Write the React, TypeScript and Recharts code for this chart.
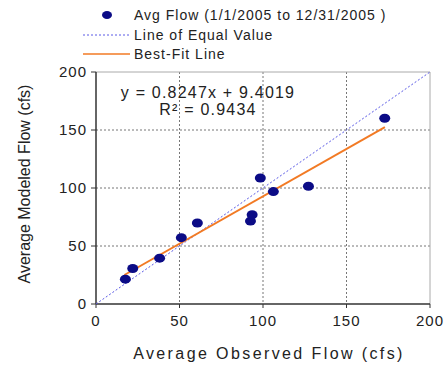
import { ScatterChart, Scatter, XAxis, YAxis, CartesianGrid, ReferenceLine, Customized } from "recharts"

// average flows, 1/1/2005 - 12/31/2005
const observed = [17.6, 22, 38.1, 51.1, 60.7, 92.5, 93.5, 98.4, 106.2, 127.2, 172.9]
const modeled = [21.4, 30.6, 39.5, 57.2, 69.8, 71.5, 76.9, 108.6, 96.9, 101.5, 160.1]

const equalX = [0, 200]
const equalY = [0, 200]
const fitX = [17, 173]
const fitY = [25, 152.5]

const ticks = [0, 50, 100, 150, 200]
const fitLabel = "y = 0.8247x + 9.4019"
const r2Label = "R² = 0.9434"
const legendNames = ["Avg Flow (1/1/2005 to 12/31/2005 )", "Line of Equal Value", "Best-Fit Line"]
const xTitle = "Average Observed Flow (cfs)"
const yTitle = "Average Modeled Flow (cfs)"

const pts = observed.map((x, i) => ({ x, y: modeled[i] }))
const equal = equalX.map((x, i) => ({ x, y: equalY[i] }))
const fit = fitX.map((x, i) => ({ x, y: fitY[i] }))

const NAVY = "#0b0b86"
const BLUE = "#5a5ae6"
const ORANGE = "#f27a24"
const TXT = "#222"

const Dot = (p: any) => <ellipse cx={p.cx} cy={p.cy} rx={5.5} ry={4.5} fill={NAVY} />
const NoDot = () => <g />

const Annotations = () => (
  <g fontFamily="'Liberation Sans', Arial, sans-serif" fill={TXT}>
    {/* legend */}
    <ellipse cx={107} cy={15} rx={5} ry={4} fill={NAVY} />
    <line x1={83} y1={35} x2={130} y2={35} stroke={BLUE} strokeDasharray="2 2" />
    <line x1={83} y1={54} x2={130} y2={54} stroke={ORANGE} strokeWidth={1.5} />
    {legendNames.map((n, i) => (
      <text key={n} x={134} y={[15, 35, 54][i]} dy="0.36em" fontSize={14} letterSpacing={1}>{n}</text>
    ))}
    {/* fit equation */}
    <text x={208} y={92} dy="0.36em" textAnchor="middle" fontSize={16} letterSpacing={1.2}>{fitLabel}</text>
    <text x={208} y={109} dy="0.36em" textAnchor="middle" fontSize={16} letterSpacing={1.2}>{r2Label}</text>
    {/* axis titles */}
    <text x={269} y={353} dy="0.36em" textAnchor="middle" fontSize={16} letterSpacing={2.4}>{xTitle}</text>
    <text x={24} y={184} dy="0.36em" textAnchor="middle" fontSize={16} transform="rotate(-90 24 184)">{yTitle}</text>
  </g>
)

export default function App() {
  return (
    <div style={{ position: "absolute", left: 0, top: 0, width: 444, height: 365, background: "#fff" }}>
      <ScatterChart width={444} height={365} margin={{ top: 72, right: 14, left: 66, bottom: 31 }}>
        <CartesianGrid stroke="#777" strokeDasharray="2 2" horizontalValues={[50, 100, 150]} verticalValues={[50, 100, 150]} />
        <ReferenceLine y={200} stroke="#aaa" />
        <ReferenceLine x={200} stroke="#aaa" />
        <XAxis
          type="number"
          dataKey="x"
          domain={[0, 200]}
          ticks={ticks}
          height={30}
          axisLine={{ stroke: "#333", strokeWidth: 1.5 }}
          tickLine={{ stroke: "#333" }}
          tickSize={4}
          tickMargin={7}
          tick={{ fill: TXT, fontSize: 15, letterSpacing: 1, fontFamily: "'Liberation Sans', Arial, sans-serif" }}
        />
        <YAxis
          type="number"
          dataKey="y"
          domain={[0, 200]}
          ticks={ticks}
          width={30}
          axisLine={{ stroke: "#333", strokeWidth: 1.5 }}
          tickLine={{ stroke: "#333" }}
          tickSize={5}
          tickMargin={4}
          tick={{ fill: TXT, fontSize: 15, letterSpacing: 1, fontFamily: "'Liberation Sans', Arial, sans-serif" }}
        />
        <Scatter data={equal} line={{ stroke: BLUE, strokeWidth: 1, strokeDasharray: "2 2" }} shape={NoDot} isAnimationActive={false} />
        <Scatter data={fit} line={{ stroke: ORANGE, strokeWidth: 2 }} shape={NoDot} isAnimationActive={false} />
        <Scatter data={pts} shape={Dot} isAnimationActive={false} />
        <Customized component={Annotations} />
      </ScatterChart>
    </div>
  )
}
